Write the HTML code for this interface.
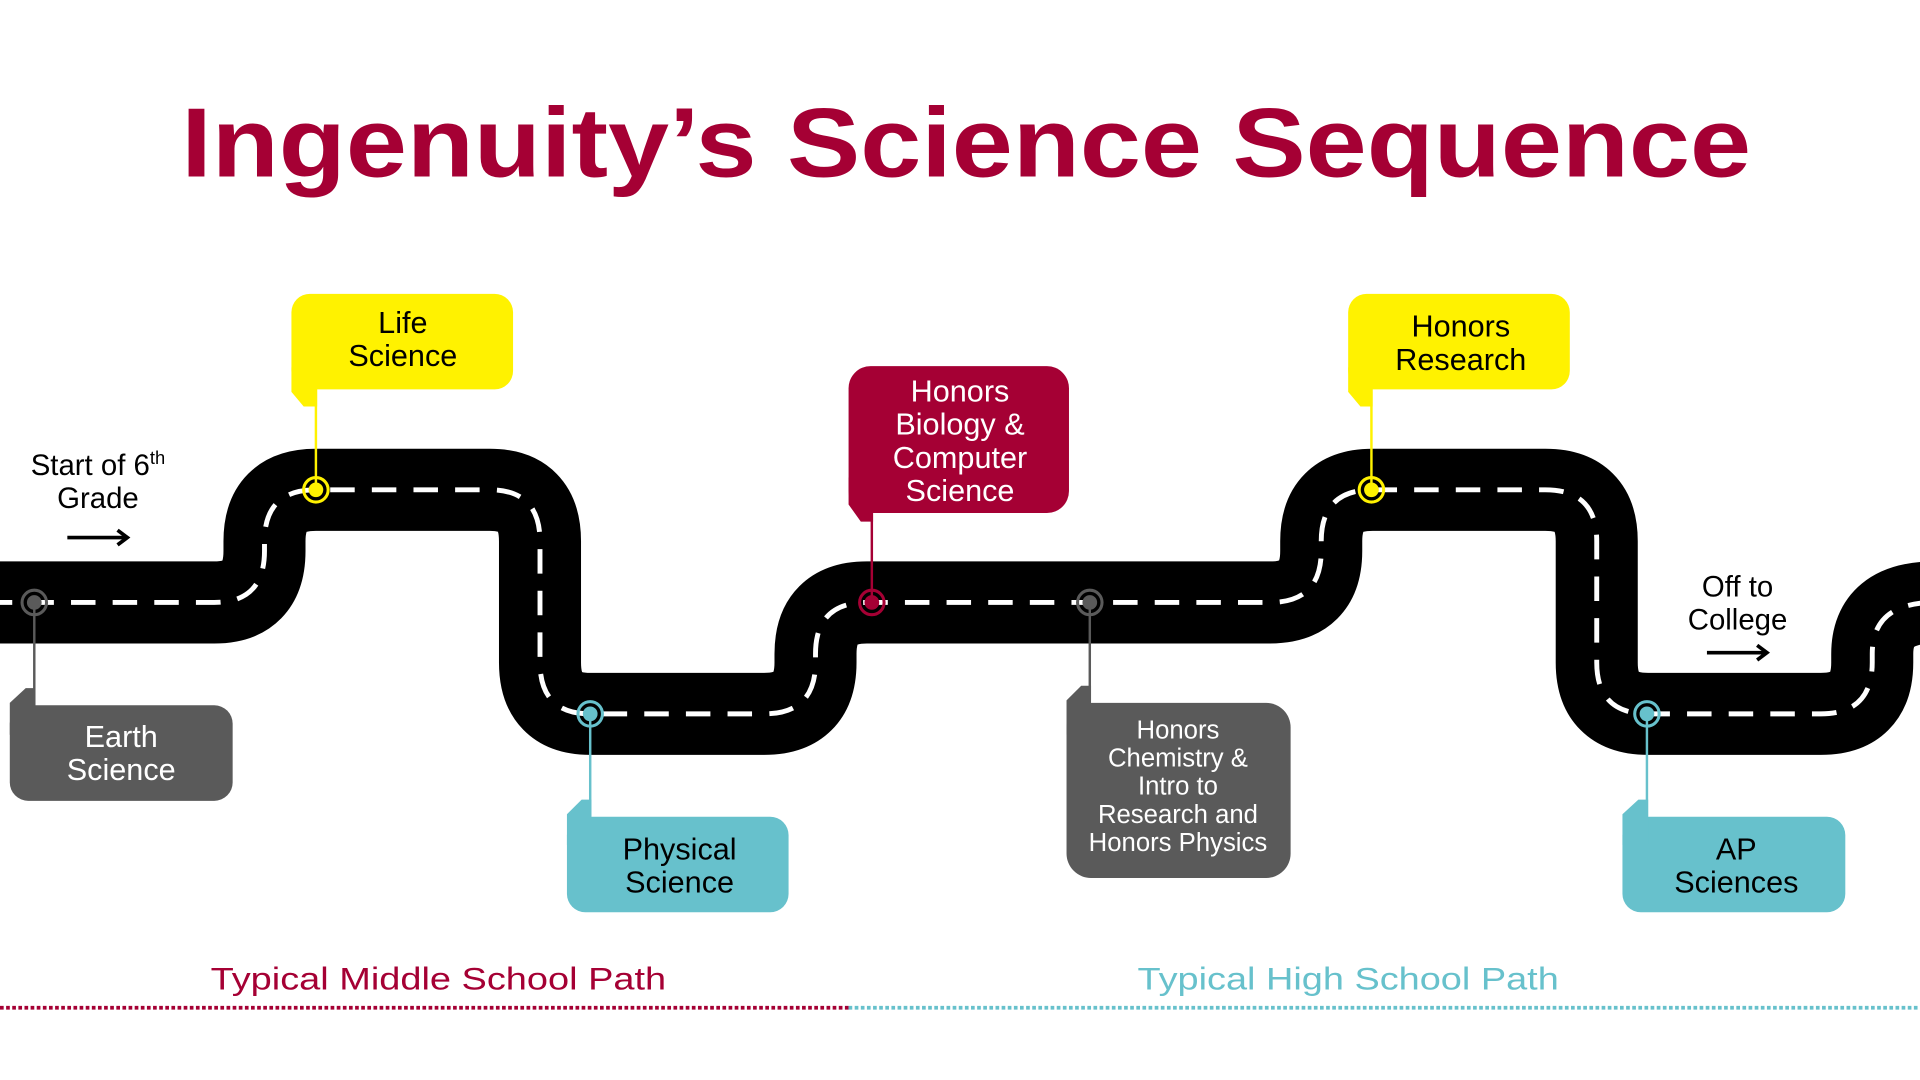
<!DOCTYPE html>
<html><head><meta charset="utf-8"><style>
html,body{margin:0;padding:0;background:#fff;}
svg{display:block;width:1920px;height:1080px;}
text{font-family:"Liberation Sans",sans-serif;}
</style></head><body>
<svg viewBox="0 0 1568 882" xmlns="http://www.w3.org/2000/svg">
<rect width="1568" height="882" fill="#fff"/>
<text x="789" y="144" text-anchor="middle" font-size="80" font-weight="bold" fill="#a50034" textLength="1282" lengthAdjust="spacingAndGlyphs">Ingenuity’s Science Sequence</text>

<g fill="none" stroke-linejoin="round">
<path d="M-10 492 H175 Q216 492 216 450 V442 Q216 400 258 400 H400 Q441 400 441 442 V541 Q441 583 482 583 H624 Q666 583 666 541 V534 Q666 492 708 492 H1037 Q1079 492 1079 450 V442 Q1079 400 1121 400 H1262 Q1304 400 1304 442 V541 Q1304 583 1346 583 H1487 Q1529 583 1529 541 V534 Q1529 492 1580 492" stroke="#000" stroke-width="67"/>
<path d="M-10 492 H175 Q216 492 216 450 V442 Q216 400 258 400 H400 Q441 400 441 442 V541 Q441 583 482 583 H624 Q666 583 666 541 V534 Q666 492 708 492 H1037 Q1079 492 1079 450 V442 Q1079 400 1121 400 H1262 Q1304 400 1304 442 V541 Q1304 583 1346 583 H1487 Q1529 583 1529 541 V534 Q1529 492 1580 492" stroke="#fff" stroke-width="4" stroke-dasharray="20 14"/>
</g>

<g stroke-width="2">
<line x1="28" y1="492" x2="28" y2="576" stroke="#5a5a5a"/>
<line x1="258" y1="318" x2="258" y2="400" stroke="#fff200"/>
<line x1="712" y1="419" x2="712" y2="492" stroke="#a50034"/>
<line x1="482" y1="583" x2="482" y2="667" stroke="#67c1cc"/>
<line x1="890" y1="492" x2="890" y2="574" stroke="#5a5a5a"/>
<line x1="1120" y1="318" x2="1120" y2="400" stroke="#fff200"/>
<line x1="1345" y1="583" x2="1345" y2="667" stroke="#67c1cc"/>
</g>
<g stroke-width="2.5">
<circle cx="28" cy="492" r="10" fill="none" stroke="#5a5a5a"/><circle cx="28" cy="492" r="6" fill="#5a5a5a"/>
<circle cx="258" cy="400" r="10" fill="none" stroke="#fff200"/><circle cx="258" cy="400" r="6" fill="#fff200"/>
<circle cx="712" cy="492" r="10" fill="none" stroke="#a50034"/><circle cx="712" cy="492" r="6" fill="#a50034"/>
<circle cx="482" cy="583" r="10" fill="none" stroke="#67c1cc"/><circle cx="482" cy="583" r="6" fill="#67c1cc"/>
<circle cx="890" cy="492" r="10" fill="none" stroke="#5a5a5a"/><circle cx="890" cy="492" r="6" fill="#5a5a5a"/>
<circle cx="1120" cy="400" r="10" fill="none" stroke="#fff200"/><circle cx="1120" cy="400" r="6" fill="#fff200"/>
<circle cx="1345" cy="583" r="10" fill="none" stroke="#67c1cc"/><circle cx="1345" cy="583" r="6" fill="#67c1cc"/>
</g>

<g>
<rect x="8" y="576" width="182" height="78" rx="15" fill="#5a5a5a"/><polygon points="8,574 8,600 29,600 29,562 21,562" fill="#5a5a5a"/>
<rect x="463" y="667" width="181" height="78" rx="15" fill="#67c1cc"/><polygon points="463,665 463,690 483,690 483,653 475,653" fill="#67c1cc"/>
<rect x="871" y="574" width="183" height="143" rx="20" fill="#5a5a5a"/><polygon points="871,572 871,600 891,600 891,560 883,560" fill="#5a5a5a"/>
<rect x="1325" y="667" width="182" height="78" rx="15" fill="#67c1cc"/><polygon points="1325,665 1325,690 1346,690 1346,653 1338,653" fill="#67c1cc"/>
<rect x="238" y="240" width="181" height="78" rx="15" fill="#fff200"/><polygon points="238,300 238,320 248,332 259,332 259,300" fill="#fff200"/>
<rect x="693" y="299" width="180" height="120" rx="18" fill="#a50034"/><polygon points="693,390 693,412 703,426 713,426 713,390" fill="#a50034"/>
<rect x="1101" y="240" width="181" height="78" rx="15" fill="#fff200"/><polygon points="1101,300 1101,320 1111,332 1121,332 1121,300" fill="#fff200"/>
</g>

<g font-size="25" text-anchor="middle">
<text x="99" y="610" fill="#fff">Earth</text><text x="99" y="637" fill="#fff">Science</text>
<text x="329" y="272" fill="#000">Life</text><text x="329" y="299" fill="#000">Science</text>
<text x="784" y="328" fill="#fff">Honors</text><text x="784" y="355" fill="#fff">Biology &amp;</text><text x="784" y="382" fill="#fff">Computer</text><text x="784" y="409" fill="#fff">Science</text>
<text x="555" y="702" fill="#000">Physical</text><text x="555" y="729" fill="#000">Science</text>
<text x="1193" y="275" fill="#000">Honors</text><text x="1193" y="302" fill="#000">Research</text>
<text x="1418" y="702" fill="#000">AP</text><text x="1418" y="729" fill="#000">Sciences</text>
</g>
<g font-size="21" text-anchor="middle" fill="#fff">
<text x="962" y="603">Honors</text><text x="962" y="626">Chemistry &amp;</text><text x="962" y="649">Intro to</text><text x="962" y="672">Research and</text><text x="962" y="695">Honors Physics</text>
</g>

<g font-size="24" text-anchor="middle" fill="#000">
<text x="80" y="388">Start of 6<tspan font-size="15" dy="-9">th</tspan></text>
<text x="80" y="415">Grade</text>
<text x="1419" y="487">Off to</text>
<text x="1419" y="514">College</text>
</g>
<g stroke="#000" stroke-width="3" fill="none">
<line x1="55" y1="439" x2="103" y2="439"/><polyline points="96,433 104,439 96,445"/>
<line x1="1394" y1="533" x2="1442" y2="533"/><polyline points="1435,527 1443,533 1435,539"/>
</g>

<text x="172" y="808" font-size="26" fill="#a50034" textLength="372" lengthAdjust="spacingAndGlyphs">Typical Middle School Path</text>
<text x="929" y="808" font-size="26" fill="#67c1cc" textLength="344" lengthAdjust="spacingAndGlyphs">Typical High School Path</text>
<line x1="0" y1="823" x2="693" y2="823" stroke="#a50034" stroke-width="3" stroke-dasharray="3 2"/>
<line x1="693" y1="823" x2="1568" y2="823" stroke="#67c1cc" stroke-width="3" stroke-dasharray="3 2"/>
</svg>
</body></html>
